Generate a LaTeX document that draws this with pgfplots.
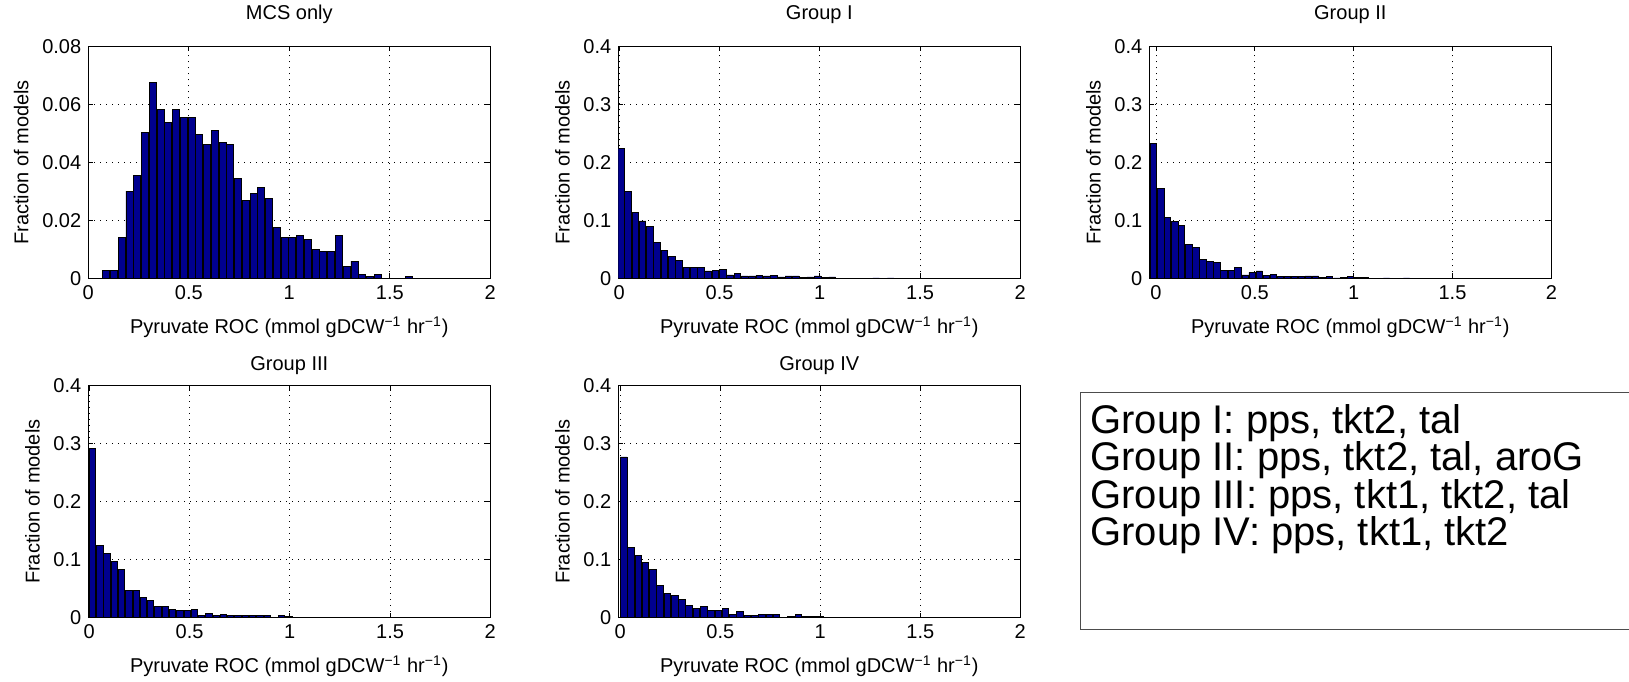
\documentclass[border=0pt]{standalone}
\usepackage{fontspec}
\setmainfont{Liberation Sans}
\usepackage{pgfplots}
\pgfplotsset{compat=1.18}

\definecolor{hbar}{RGB}{0,0,143}

% MATLAB-like histogram panel; 1 px of the reference = 0.5pt
\pgfplotsset{
  hist/.style={
    scale only axis, width=201pt, height=116pt,
    anchor=south west,
    xmin=0, xmax=2, ymin=0,
    xtick={0,0.5,1,1.5,2},
    ybar, bar width=0.033,
    cycle list={{fill=hbar, draw=black, line width=0.4pt}},
    grid=major,
    grid style={black, line width=0.4pt, dash pattern=on 0.5pt off 2.5pt},
    tick align=inside, major tick length=2.5pt,
    xtick pos=both, ytick pos=both,
    axis line style={line width=0.6pt},
    every tick/.style={black, line width=0.5pt},
    scaled y ticks=false,
    /pgf/number format/assume math mode=true,
    yticklabel style={/pgf/number format/fixed, /pgf/number format/precision=2},
    tick label style={font=\fontsize{10}{12}\selectfont},
    label style={font=\fontsize{10}{12}\selectfont},
    xlabel style={yshift=-1.6pt},
    title style={font=\fontsize{10}{12}\selectfont, yshift=2pt},
    xlabel={Pyruvate ROC (mmol gDCW\textsuperscript{−1} hr\textsuperscript{−1})},
    ylabel={Fraction of models},
  },
  lowrow/.style={title style={yshift=-6pt}},
}

\begin{document}
\begin{tikzpicture}
\useasboundingbox (0,0) rectangle (814.5pt,340.5pt);

% MCS only
\begin{axis}[hist, at={(44.15pt,201.35pt)}, title={MCS only},
  ymax=0.08, ytick={0,0.02,0.04,0.06,0.08}, bar width=0.035]
\addplot coordinates {
(0.089,0.0026)(0.128,0.0026)(0.166,0.0141)(0.205,0.0301)(0.244,0.0354)
(0.282,0.0502)(0.321,0.0675)(0.359,0.0582)(0.398,0.0536)(0.436,0.0582)
(0.475,0.0554)(0.514,0.0554)(0.552,0.0495)(0.591,0.0461)(0.629,0.0509)
(0.668,0.0469)(0.706,0.0461)(0.745,0.0343)(0.784,0.0267)(0.822,0.0294)
(0.861,0.0314)(0.899,0.0275)(0.938,0.0174)(0.976,0.0141)(1.015,0.0141)
(1.054,0.0147)(1.092,0.0134)(1.131,0.0101)(1.169,0.0094)(1.208,0.0094)
(1.246,0.0147)(1.285,0.0040)(1.324,0.0059)(1.362,0.0014)(1.401,0.0007)
(1.439,0.0014)(1.594,0.0007)
};
\end{axis}

% Group I
\begin{axis}[hist, at={(309.15pt,201.35pt)}, title={Group I},
  xmin=-0.005, ymax=0.4, ytick={0,0.1,0.2,0.3,0.4}]
\addplot coordinates {
(0.007,0.2246)(0.043,0.1490)(0.080,0.1143)(0.116,0.0989)(0.152,0.0897)
(0.189,0.0611)(0.225,0.0486)(0.261,0.0371)(0.298,0.0309)(0.334,0.0194)
(0.371,0.0194)(0.407,0.0189)(0.443,0.0126)(0.480,0.0143)(0.516,0.0160)
(0.553,0.0057)(0.589,0.0080)(0.625,0.0040)(0.662,0.0040)(0.698,0.0050)
(0.735,0.0040)(0.771,0.0050)(0.807,0.0023)(0.844,0.0040)(0.880,0.0040)
(0.917,0.0017)(0.953,0.0023)(0.989,0.0040)(1.026,0.0017)(1.062,0.0023)
(1.281,0.0006)(1.353,0.0006)
};
\end{axis}

% Group II
\begin{axis}[hist, at={(574.65pt,201.35pt)}, title={Group II},
  xmin=-0.034, ymax=0.4, ytick={0,0.1,0.2,0.3,0.4}, bar width=0.032]
\addplot coordinates {
(-0.012,0.2326)(0.024,0.1554)(0.059,0.1051)(0.095,0.0983)(0.130,0.0914)
(0.166,0.0589)(0.202,0.0537)(0.237,0.0320)(0.273,0.0286)(0.308,0.0274)
(0.344,0.0131)(0.380,0.0131)(0.415,0.0194)(0.451,0.0057)(0.486,0.0103)
(0.522,0.0126)(0.558,0.0051)(0.593,0.0069)(0.629,0.0034)(0.664,0.0034)
(0.700,0.0034)(0.736,0.0034)(0.771,0.0040)(0.807,0.0040)(0.842,0.0017)
(0.878,0.0029)(0.914,0.0006)(0.949,0.0017)(0.985,0.0029)(1.020,0.0017)
(1.056,0.0010)(1.166,0.0006)(1.267,0.0006)
};
\end{axis}

% Group III
\begin{axis}[hist, lowrow, at={(44.15pt,31.65pt)}, title={Group III},
  xmin=-0.005, ymax=0.4, ytick={0,0.1,0.2,0.3,0.4}, bar width=0.032]
\addplot coordinates {
(0.016,0.2915)(0.052,0.1244)(0.088,0.1101)(0.125,0.0964)(0.161,0.0833)
(0.197,0.0473)(0.234,0.0473)(0.270,0.0348)(0.306,0.0291)(0.342,0.0188)
(0.379,0.0200)(0.415,0.0148)(0.451,0.0125)(0.488,0.0131)(0.524,0.0143)
(0.560,0.0040)(0.597,0.0080)(0.633,0.0040)(0.669,0.0051)(0.705,0.0040)
(0.742,0.0040)(0.778,0.0046)(0.814,0.0034)(0.851,0.0034)(0.887,0.0040)
(0.923,0.0006)(0.959,0.0034)(0.996,0.0023)(1.032,0.0010)(1.068,0.0010)
(1.286,0.0005)(1.340,0.0005)
};
\end{axis}

% Group IV
\begin{axis}[hist, lowrow, at={(309.15pt,31.65pt)}, title={Group IV},
  xmin=-0.01, ymax=0.4, ytick={0,0.1,0.2,0.3,0.4}]
\addplot coordinates {
(0.017,0.2772)(0.053,0.1215)(0.090,0.1072)(0.126,0.0958)(0.162,0.0833)
(0.199,0.0559)(0.235,0.0416)(0.272,0.0388)(0.308,0.0319)(0.344,0.0205)
(0.381,0.0165)(0.417,0.0200)(0.454,0.0131)(0.490,0.0120)(0.526,0.0165)
(0.563,0.0063)(0.599,0.0103)(0.636,0.0040)(0.672,0.0040)(0.708,0.0051)
(0.745,0.0051)(0.781,0.0057)(0.818,0.0010)(0.854,0.0029)(0.890,0.0051)
(0.927,0.0023)(0.963,0.0023)(1.000,0.0029)(1.036,0.0010)(1.072,0.0010)
(1.290,0.0005)(1.360,0.0005)
};
\end{axis}

% text box, runs past the right edge as in the reference
\draw[black!70, line width=0.5pt] (540.25pt,25.7pt) rectangle (830pt,144.15pt);
\foreach \txt [count=\i from 0] in {
  {Group I: pps, tkt2, tal},
  {Group II: pps, tkt2, tal, aroG},
  {Group III: pps, tkt1, tkt2, tal},
  {Group IV: pps, tkt1, tkt2}}
  \node[anchor=base west, inner sep=0, text height=13pt, text depth=3.5pt,
        font=\fontsize{20}{22}\selectfont]
    at (545pt,123.6pt-\i*18.6pt) {\txt};
\end{tikzpicture}
\end{document}
